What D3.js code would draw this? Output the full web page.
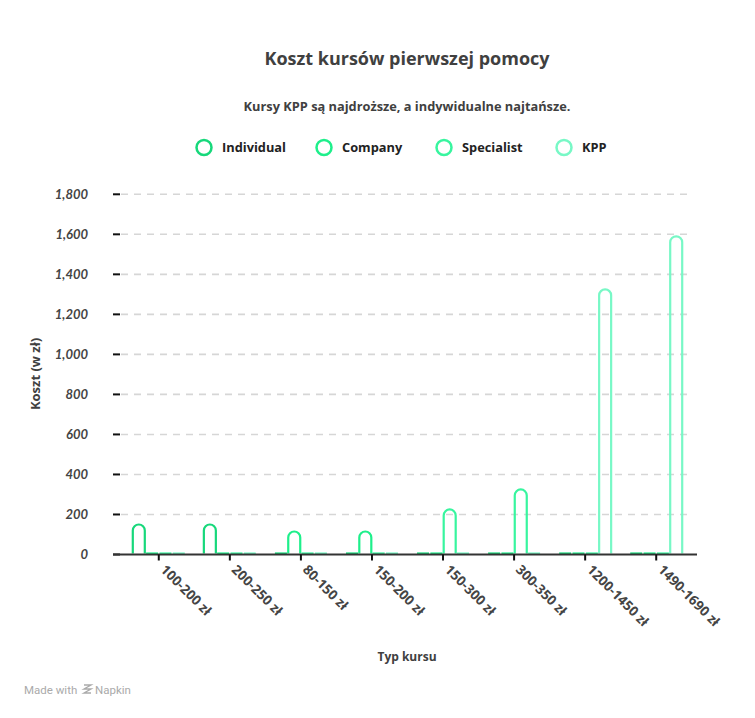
<!DOCTYPE html>
<html>
<head>
<meta charset="utf-8">
<script src="https://cdn.jsdelivr.net/npm/d3@7"></script>
<style>
  html, body { margin: 0; padding: 0; background: #fff; }
  svg { display: block; }
</style>
</head>
<body>
<div id="chart"></div>
<script>
const categories = ["100-200 zł", "200-250 zł", "80-150 zł", "150-200 zł", "150-300 zł", "300-350 zł", "1200-1450 zł", "1490-1690 zł"];
const seriesNames = ["Individual", "Company", "Specialist", "KPP"];
const individual = [150, 150, 0, 0, 0, 0, 0, 0];
const company    = [0, 0, 115, 115, 0, 0, 0, 0];
const specialist = [0, 0, 0, 0, 225, 325, 0, 0];
const kpp        = [0, 0, 0, 0, 0, 0, 1325, 1590];
const yTicks = [0, 200, 400, 600, 800, 1000, 1200, 1400, 1600, 1800];
const colors = ["#17d87b", "#1eef8b", "#38f59f", "#78f8c6"];

const seriesValues = [individual, company, specialist, kpp];
const W = 755, H = 718;
const font = "'Open Sans', 'Noto Sans', sans-serif";
const tickFont = "Lato, 'Noto Sans', sans-serif";

const svg = d3.select("#chart").append("svg").attr("width", W).attr("height", H);

const x = d3.scaleBand().domain(categories).range([116.5, 698.5]).paddingInner(0.25).paddingOuter(0.22);
const xs = d3.scaleBand().domain(seriesNames).range([0, x.bandwidth()]).padding(0);
const y = d3.scaleLinear().domain([0, 1800]).range([554.5, 194.3]);

// title
svg.append("text").attr("x", 407).attr("y", 65).attr("text-anchor", "middle")
  .attr("font-family", font).attr("font-weight", 700).attr("font-size", 18).attr("fill", "#404040")
  .text("Koszt kursów pierwszej pomocy");
svg.append("text").attr("x", 407).attr("y", 111).attr("text-anchor", "middle")
  .attr("font-family", font).attr("font-weight", 700).attr("font-size", 12.8).attr("fill", "#404040")
  .text("Kursy KPP są najdroższe, a indywidualne najtańsze.");

// legend
const legendX = [204, 324, 444, 564];
const lg = svg.append("g");
seriesNames.forEach((s, i) => {
  lg.append("circle").attr("cx", legendX[i]).attr("cy", 147.5).attr("r", 7.5)
    .attr("fill", "none").attr("stroke", colors[i]).attr("stroke-width", 2.5);
  lg.append("text").attr("x", legendX[i] + 18).attr("y", 151.5)
    .attr("font-family", font).attr("font-weight", 700).attr("font-size", 12.8).attr("fill", "#222")
    .text(s);
});

// gridlines + y ticks
const gy = svg.append("g");
yTicks.forEach(t => {
  if (t > 0) {
    gy.append("line").attr("x1", 121).attr("x2", 690).attr("y1", y(t)).attr("y2", y(t))
      .attr("stroke", "#d6d6d6").attr("stroke-width", 1.6).attr("stroke-dasharray", "7,6");
  }
  gy.append("line").attr("x1", 113).attr("x2", 120).attr("y1", y(t)).attr("y2", y(t))
    .attr("stroke", "#111").attr("stroke-width", 2);
  gy.append("text").attr("x", 88).attr("y", y(t) + 4.5).attr("text-anchor", "end")
    .attr("font-family", tickFont).attr("font-weight", 700).attr("font-style", "italic")
    .attr("font-size", 13).attr("fill", "#444")
    .text(d3.format(",")(t));
});

// bars
const barW = 12;
const gb = svg.append("g");
categories.forEach((c, ci) => {
  seriesNames.forEach((s, si) => {
    const v = seriesValues[si][ci];
    const cx = x(c) + xs(s) + xs.bandwidth() / 2;
    const x0 = cx - barW / 2, x1 = cx + barW / 2;
    const y0 = y(0) - 1, yt = y(v);
    let path;
    if (v === 0) {
      path = `M${x0},${y0}L${x1},${y0}`;
    } else {
      const r = barW / 2;
      path = `M${x0},${y0}L${x0},${yt + r}A${r},${r} 0 0 1 ${x1},${yt + r}L${x1},${y0}`;
    }
    gb.append("path").attr("d", path).attr("fill", "none")
      .attr("stroke", colors[si]).attr("stroke-width", 2.2);
  });
});

// x axis
svg.append("line").attr("x1", 113).attr("x2", 697).attr("y1", y(0)).attr("y2", y(0))
  .attr("stroke", "#333").attr("stroke-width", 2);
const gx = svg.append("g");
categories.forEach(c => {
  const cx = x(c) + x.bandwidth() / 2;
  gx.append("line").attr("x1", cx).attr("x2", cx).attr("y1", y(0)).attr("y2", y(0) + 6)
    .attr("stroke", "#111").attr("stroke-width", 2);
  gx.append("text").attr("transform", `translate(${cx + 1},${y(0) + 16}) rotate(45)`)
    .attr("font-family", font).attr("font-weight", 700).attr("font-size", 13.5).attr("fill", "#444")
    .text(c);
});

// axis titles
svg.append("text").attr("x", 407).attr("y", 661).attr("text-anchor", "middle")
  .attr("font-family", font).attr("font-weight", 700).attr("font-size", 12).attr("fill", "#404040")
  .text("Typ kursu");
svg.append("text").attr("transform", "translate(40,374) rotate(-90)").attr("text-anchor", "middle")
  .attr("font-family", font).attr("font-weight", 700).attr("font-size", 13).attr("fill", "#404040")
  .text("Koszt (w zł)");

// footer
svg.append("text").attr("x", 24).attr("y", 694)
  .attr("font-family", "Roboto, sans-serif").attr("font-size", 11.5).attr("fill", "#aaa")
  .text("Made with");
const ic = svg.append("g").attr("transform", "translate(83,684)").attr("stroke", "#aaa").attr("stroke-width", 1.4).attr("fill", "none");
ic.append("path").attr("d", "M1,1L8,1L1,5L8,5L1,9L8,9");
svg.append("text").attr("x", 95).attr("y", 694)
  .attr("font-family", "Roboto, sans-serif").attr("font-size", 11.5).attr("fill", "#aaa")
  .text("Napkin");
</script>
</body>
</html>
